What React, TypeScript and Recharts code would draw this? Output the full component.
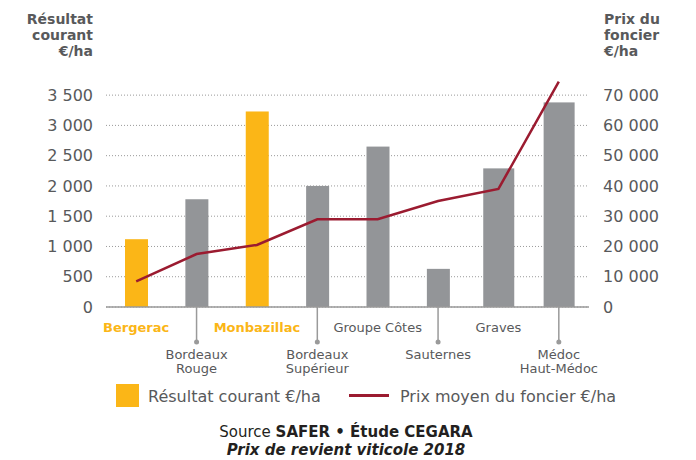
import { Bar, Cell, ComposedChart, CartesianGrid, Line, XAxis, YAxis } from 'recharts'

const categories = [
  'Bergerac',
  'Bordeaux Rouge',
  'Monbazillac',
  'Bordeaux Supérieur',
  'Groupe Côtes',
  'Sauternes',
  'Graves',
  'Médoc Haut-Médoc',
]
const labelLines = [
  ['Bergerac'],
  ['Bordeaux', 'Rouge'],
  ['Monbazillac'],
  ['Bordeaux', 'Supérieur'],
  ['Groupe Côtes'],
  ['Sauternes'],
  ['Graves'],
  ['Médoc', 'Haut-Médoc'],
]
const highlighted = ['Bergerac', 'Monbazillac']
const wideBars = ['Graves', 'Médoc Haut-Médoc']

const resultatCourant = [1120, 1780, 3230, 2000, 2650, 630, 2290, 3380]
const prixFoncier = [8500, 17500, 20500, 29000, 29000, 35000, 39000, 74500]

const leftTicks = [0, 500, 1000, 1500, 2000, 2500, 3000, 3500]
const rightTicks = [0, 10000, 20000, 30000, 40000, 50000, 60000, 70000]

const ORANGE = '#fbb617'
const GREY_BAR = '#939598'
const RED = '#9b1b30'
const TEXT = '#58595b'
const FONT = '"DejaVu Sans", sans-serif'

const data = categories.map((name, i) => ({
  name,
  resultat: resultatCourant[i],
  prix: prixFoncier[i],
}))

const fmt = (v: number) => String(v).replace(/\B(?=(\d{3})+(?!\d))/g, ' ')

function CategoryTick(props: any) {
  const { x, y, payload } = props
  const i = payload.index
  const lines = labelLines[i]
  const hot = highlighted.includes(categories[i])
  const textProps = {
    textAnchor: 'middle' as const,
    fontSize: 13,
    fontFamily: FONT,
    fill: hot ? ORANGE : TEXT,
    fontWeight: hot ? 700 : 400,
  }
  if (i % 2 === 1) {
    return (
      <g>
        <line x1={x} y1={y} x2={x} y2={y + 35} stroke="#9a9a9a" strokeWidth={1.5} />
        <circle cx={x} cy={y + 35} r={2.5} fill="#9a9a9a" />
        {lines.map((l, k) => (
          <text key={k} x={x} y={y + 47 + k * 14} dy="0.35em" {...textProps}>
            {l}
          </text>
        ))}
      </g>
    )
  }
  return (
    <text x={x} y={y + 20} dy="0.35em" {...textProps}>
      {lines[0]}
    </text>
  )
}

function BarShape(props: any) {
  const { x, y, width, height, index, fill } = props
  const w = wideBars.includes(categories[index]) ? 31 : width
  return <rect x={x + width / 2 - w / 2} y={y} width={w} height={height} fill={fill} />
}

export default function App() {
  const titleStyle = {
    position: 'absolute' as const,
    top: 11,
    fontFamily: FONT,
    fontWeight: 700,
    fontSize: 14,
    lineHeight: '16px',
    color: TEXT,
  }
  return (
    <div style={{ position: 'relative', width: 696, height: 460, fontFamily: FONT }}>
      <style>{'body{margin:0}'}</style>
      <div style={{ ...titleStyle, right: 603, textAlign: 'right' }}>
        Résultat
        <br />
        courant
        <br />
        €/ha
      </div>
      <div style={{ ...titleStyle, left: 604 }}>
        Prix du
        <br />
        foncier
        <br />
        €/ha
      </div>
      <div style={{ position: 'absolute', left: 0, top: 0 }}>
        <ComposedChart width={696} height={380} data={data} margin={{ top: 80, right: 7, left: 6, bottom: 3 }}>
          <CartesianGrid
            vertical={false}
            stroke="#9a9a9a"
            strokeDasharray="1 2"
            yAxisId="left"
            horizontalValues={leftTicks}
          />
          <XAxis
            dataKey="name"
            interval={0}
            height={70}
            tickLine={false}
            tickSize={0}
            tickMargin={0}
            axisLine={{ stroke: '#9a9a9a', strokeWidth: 1.5 }}
            tick={<CategoryTick />}
          />
          <YAxis
            yAxisId="left"
            width={100}
            domain={[0, 3750]}
            ticks={leftTicks}
            axisLine={false}
            tickLine={false}
            tickSize={0}
            tickMargin={13}
            tickFormatter={fmt}
            tick={{ fontSize: 16, fill: TEXT, fontFamily: FONT }}
          />
          <YAxis
            yAxisId="right"
            orientation="right"
            width={100}
            domain={[0, 75000]}
            ticks={rightTicks}
            axisLine={false}
            tickLine={false}
            tickSize={0}
            tickMargin={14}
            tickFormatter={fmt}
            tick={{ fontSize: 16, fill: TEXT, fontFamily: FONT, textAnchor: 'start' }}
          />
          <Bar yAxisId="left" dataKey="resultat" barSize={23} shape={<BarShape />} isAnimationActive={false}>
            {data.map((d) => (
              <Cell key={d.name} fill={highlighted.includes(d.name) ? ORANGE : GREY_BAR} />
            ))}
          </Bar>
          <Line
            yAxisId="right"
            dataKey="prix"
            type="linear"
            stroke={RED}
            strokeWidth={2.5}
            dot={false}
            activeDot={false}
            isAnimationActive={false}
          />
        </ComposedChart>
      </div>
      <svg style={{ position: 'absolute', left: 0, top: 370 }} width={696} height={90}>
        <rect x={116} y={14} width={23} height={23} fill={ORANGE} />
        <text x={148} y={26} dy="0.35em" fontSize={16} fill={TEXT} fontFamily={FONT}>
          Résultat courant €/ha
        </text>
        <line x1={349} y1={25.5} x2={389} y2={25.5} stroke={RED} strokeWidth={3} />
        <text x={400} y={26} dy="0.35em" fontSize={16} fill={TEXT} fontFamily={FONT}>
          Prix moyen du foncier €/ha
        </text>
        <text x={346} y={62} dy="0.35em" textAnchor="middle" fontSize={15} fill="#231f20" fontFamily={FONT}>
          Source <tspan fontWeight={700}>SAFER • Étude CEGARA</tspan>
        </text>
        <text
          x={346}
          y={80}
          dy="0.35em"
          textAnchor="middle"
          fontSize={15}
          fontWeight={700}
          fontStyle="italic"
          fill="#231f20"
          fontFamily={FONT}
        >
          Prix de revient viticole 2018
        </text>
      </svg>
    </div>
  )
}
